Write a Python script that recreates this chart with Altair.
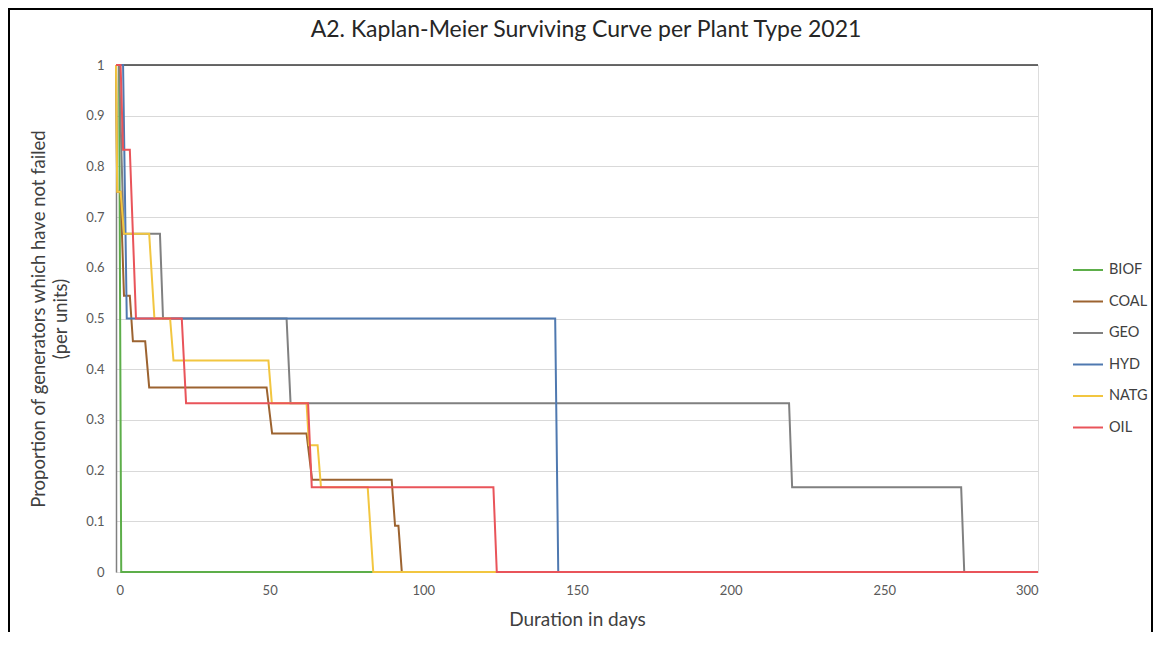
import altair as alt
import pandas as pd

series_names = ["BIOF", "COAL", "GEO", "HYD", "NATG", "OIL"]
series_colors = ["#5DAE4A", "#9C6330", "#808080", "#4F79B0", "#F2C640", "#E9545A"]

BIOF_x = [0, 1, 1.7, 300]
BIOF_y = [1, 1, 0, 0]
COAL_x = [0, 0.4, 1.5, 2.6, 4.5, 5.5, 9.5, 10.8, 49, 50.8, 62, 63.8, 89.7, 90.8, 91.9, 93, 300]
COAL_y = [1, 0.75, 0.75, 0.545, 0.545, 0.455, 0.455, 0.364, 0.364, 0.273, 0.273, 0.182, 0.182, 0.091, 0.091, 0, 0]
GEO_x = [0, 1, 2.5, 14.3, 15.3, 55.5, 56.8, 219, 220, 275, 276, 300]
GEO_y = [1, 1, 0.667, 0.667, 0.5, 0.5, 0.333, 0.333, 0.167, 0.167, 0, 0]
HYD_x = [0, 2.3, 3.5, 142.9, 143.9, 300]
HYD_y = [1, 1, 0.5, 0.5, 0, 0]
NATG_x = [0, 0.4, 1.5, 2.6, 10.8, 12.5, 17.6, 18.7, 49.6, 50.7, 62, 62.8, 65.6, 66.7, 81.9, 83.7, 300]
NATG_y = [1, 0.75, 0.75, 0.667, 0.667, 0.5, 0.5, 0.417, 0.417, 0.333, 0.333, 0.25, 0.25, 0.167, 0.167, 0, 0]
OIL_x = [0, 1.5, 2.3, 4.5, 6.5, 21.4, 22.8, 62.5, 63.7, 122.8, 123.9, 300]
OIL_y = [1, 1, 0.833, 0.833, 0.5, 0.5, 0.333, 0.333, 0.167, 0.167, 0, 0]

x_ticks = [0, 50, 100, 150, 200, 250, 300]
y_ticks = [0, 0.1, 0.2, 0.3, 0.4, 0.5, 0.6, 0.7, 0.8, 0.9, 1]
title_text = "A2. Kaplan-Meier Surviving Curve per Plant Type 2021"

xs = [BIOF_x, COAL_x, GEO_x, HYD_x, NATG_x, OIL_x]
ys = [BIOF_y, COAL_y, GEO_y, HYD_y, NATG_y, OIL_y]
rows = []
for name, sx, sy in zip(series_names, xs, ys):
    for i, (a, b) in enumerate(zip(sx, sy)):
        rows.append({"type": name, "days": a, "p": b, "idx": i})
df = pd.DataFrame(rows)

W, H = 922, 507
FONT = "Lato"

lines = alt.Chart(df).mark_line(strokeWidth=2).encode(
    x=alt.X("days:Q", scale=alt.Scale(domain=[0, 300], nice=False),
            axis=alt.Axis(values=x_ticks, title="Duration in days", grid=False,
                          ticks=False, domainColor="#d9d9d9", labelPadding=12,
                          labelFontSize=13, labelColor="#595959", titleFontSize=19,
                          titleColor="#404040", titleFontWeight="normal", titlePadding=13,
                          labelFont=FONT, titleFont=FONT)),
    y=alt.Y("p:Q", scale=alt.Scale(domain=[0, 1], nice=False),
            axis=alt.Axis(values=y_ticks, format="~g",
                          title=["Proportion of generators which have not failed", "(per units)"],
                          grid=True, gridColor="#d9d9d9", ticks=False, domainColor="#808080",
                          domainWidth=1.5, labelPadding=12, labelFontSize=13, labelColor="#595959",
                          titleFontSize=18.5, titleColor="#404040", titleFontWeight="normal",
                          titlePadding=15, titleLineHeight=22, labelFont=FONT, titleFont=FONT)),
    color=alt.Color("type:N", scale=alt.Scale(domain=series_names, range=series_colors),
                    legend=alt.Legend(title=None, orient="none", legendX=956, legendY=189,
                                      symbolType="stroke", symbolSize=900, symbolStrokeWidth=2,
                                      labelFontSize=14.5, labelColor="#404040", labelFont=FONT,
                                      rowPadding=8.5, labelOffset=5)),
    order="idx:Q",
)

top_line = alt.Chart(pd.DataFrame({"v": [1]})).mark_rule(color="#3a3a3a", strokeWidth=1.5).encode(
    y=alt.Y("v:Q"))

title = alt.Chart(pd.DataFrame({"t": [title_text]})).mark_text(
    fontSize=23, font=FONT, color="#262626", align="center", baseline="middle").encode(
    text="t:N", x=alt.value(470), y=alt.value(-35))

frame_left = alt.Chart(pd.DataFrame({"a": [0]})).mark_rule(color="black", strokeWidth=2).encode(
    x=alt.value(-107), y=alt.value(-57), y2=alt.value(580))
frame_top = alt.Chart(pd.DataFrame({"a": [0]})).mark_rule(color="black", strokeWidth=2).encode(
    x=alt.value(-108), x2=alt.value(1037), y=alt.value(-56))
frame_right = alt.Chart(pd.DataFrame({"a": [0]})).mark_rule(color="black", strokeWidth=2).encode(
    x=alt.value(1036), y=alt.value(-57), y2=alt.value(580))

chart = alt.layer(top_line, lines, title, frame_left, frame_top, frame_right).properties(
    width=W, height=H,
    autosize=alt.AutoSizeParams(type="none"),
    padding={"left": 108, "top": 57, "right": 115, "bottom": 60},
).configure_view(stroke=None).configure(background="white")

chart.save("out.html", embed_options={"renderer": "svg", "actions": False})
